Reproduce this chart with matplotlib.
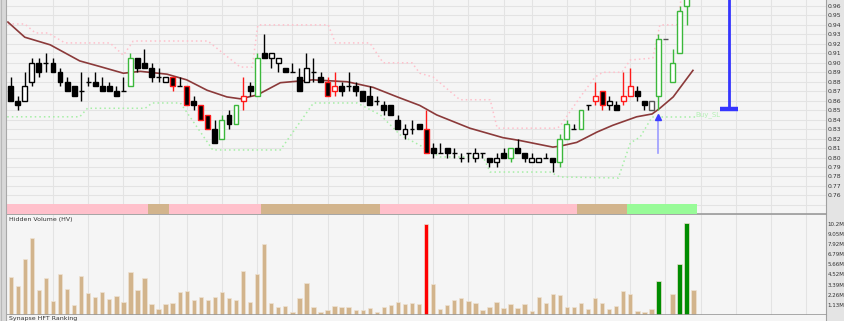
import matplotlib
matplotlib.use("Agg")
import matplotlib.pyplot as plt
from matplotlib.patches import Rectangle
from matplotlib.lines import Line2D

# ---- candles (one per session) ----
opens = [0.875, 0.86, 0.86, 0.88, 0.90, 0.90, 0.90, 0.89, 0.88, 0.875,
         0.87, 0.88, 0.88, 0.875, 0.875, 0.87, 0.87, 0.875, 0.905, 0.90,
         0.895, 0.885, 0.88, 0.885, 0.875, 0.875, 0.86, 0.855, 0.845, 0.83,
         0.82, 0.845, 0.835, 0.86, 0.875, 0.865, 0.91, 0.905, 0.90, 0.895,
         0.89, 0.885, 0.88, 0.89, 0.885, 0.88, 0.87, 0.875, 0.875, 0.875,
         0.87, 0.865, 0.86, 0.855, 0.855, 0.84, 0.825, 0.83, 0.835, 0.83,
         0.81, 0.805, 0.81, 0.805, 0.80, 0.805, 0.80, 0.805, 0.80, 0.795,
         0.805, 0.80, 0.81, 0.805, 0.795, 0.795, 0.80, 0.80, 0.795, 0.82,
         0.83, 0.83, 0.855, 0.86, 0.87, 0.855, 0.855, 0.86, 0.865, 0.87,
         0.86, 0.85, 0.865, 0.925, 0.88, 0.91, 0.96, 0.99]
highs = [0.885, 0.865, 0.89, 0.905, 0.905, 0.91, 0.905, 0.895, 0.885, 0.875,
         0.89, 0.885, 0.89, 0.885, 0.88, 0.875, 0.885, 0.91, 0.905, 0.915,
         0.90, 0.895, 0.885, 0.885, 0.885, 0.875, 0.865, 0.855, 0.845, 0.84,
         0.845, 0.85, 0.855, 0.885, 0.88, 0.91, 0.93, 0.91, 0.905, 0.895,
         0.90, 0.895, 0.91, 0.905, 0.89, 0.885, 0.89, 0.88, 0.89, 0.88,
         0.87, 0.875, 0.865, 0.86, 0.855, 0.845, 0.835, 0.84, 0.835, 0.85,
         0.815, 0.815, 0.81, 0.81, 0.805, 0.805, 0.81, 0.805, 0.80, 0.805,
         0.81, 0.81, 0.82, 0.805, 0.805, 0.80, 0.805, 0.80, 0.825, 0.84,
         0.835, 0.85, 0.855, 0.88, 0.87, 0.865, 0.86, 0.89, 0.895, 0.875,
         0.86, 0.86, 0.93, 0.925, 0.915, 0.96, 0.99, 1.02]
lows = [0.86, 0.85, 0.86, 0.875, 0.885, 0.89, 0.89, 0.875, 0.87, 0.865,
        0.86, 0.875, 0.875, 0.87, 0.87, 0.865, 0.87, 0.875, 0.89, 0.895,
        0.88, 0.88, 0.88, 0.87, 0.875, 0.855, 0.85, 0.84, 0.83, 0.815,
        0.82, 0.83, 0.835, 0.85, 0.865, 0.865, 0.905, 0.895, 0.89, 0.89,
        0.89, 0.87, 0.88, 0.88, 0.88, 0.865, 0.865, 0.865, 0.87, 0.865,
        0.86, 0.855, 0.855, 0.845, 0.845, 0.83, 0.82, 0.825, 0.83, 0.805,
        0.80, 0.805, 0.80, 0.80, 0.795, 0.795, 0.795, 0.80, 0.79, 0.79,
        0.80, 0.795, 0.805, 0.795, 0.795, 0.795, 0.80, 0.785, 0.79, 0.82,
        0.83, 0.83, 0.85, 0.855, 0.85, 0.85, 0.85, 0.855, 0.865, 0.86,
        0.85, 0.85, 0.85, 0.925, 0.88, 0.91, 0.94, 0.98]
closes = [0.86, 0.855, 0.875, 0.90, 0.89, 0.90, 0.89, 0.88, 0.87, 0.865,
          0.87, 0.88, 0.875, 0.87, 0.87, 0.865, 0.87, 0.905, 0.895, 0.895,
          0.885, 0.885, 0.885, 0.875, 0.875, 0.855, 0.855, 0.84, 0.83, 0.815,
          0.84, 0.835, 0.855, 0.865, 0.87, 0.905, 0.905, 0.91, 0.905, 0.89,
          0.89, 0.87, 0.895, 0.89, 0.88, 0.865, 0.875, 0.87, 0.875, 0.87,
          0.86, 0.855, 0.86, 0.85, 0.845, 0.83, 0.83, 0.83, 0.83, 0.805,
          0.805, 0.805, 0.805, 0.805, 0.80, 0.805, 0.805, 0.805, 0.795, 0.80,
          0.80, 0.81, 0.805, 0.80, 0.80, 0.80, 0.80, 0.795, 0.82, 0.835,
          0.83, 0.85, 0.855, 0.865, 0.855, 0.86, 0.85, 0.865, 0.875, 0.865,
          0.855, 0.86, 0.925, 0.925, 0.90, 0.955, 0.985, 1.01]
# k = normal, r = red signal, g = green signal, s = grey
candle_kind = ("kkkkkkkkkkkkkkkkk" "g" "kkkkk" "r" "k" "r" "k" "rr" "k" "g" "k" "g"
               "r" "k" "g" "kkkkkkkkk" "rr" "kkkkkkkkkkkk" "r" "kkkkkkkkkkk" "g"
               "kkkkkk" "gg" "k" "g" "k" "rr" "kk" "rr" "kk" "s" "g" "s" "gggg")

volume = [4.23, 3.18, 6.29, 8.61, 2.81, 4.16, 1.54, 4.53, 2.92, 1.16,
          4.31, 2.47, 1.98, 2.58, 1.80, 2.17, 1.46, 4.79, 2.81, 4.16,
          1.24, 0.67, 1.24, 1.35, 2.55, 2.73, 1.72, 2.06, 1.69, 2.06,
          2.51, 1.87, 1.65, 4.94, 1.50, 4.53, 7.90, 1.35, 0.90, 1.01,
          0.30, 1.95, 3.56, 0.94, 0.37, 0.60, 1.01, 0.94, 0.94, 0.60,
          0.60, 0.82, 0.37, 0.86, 1.12, 1.50, 1.27, 1.39, 1.27, 10.15,
          3.45, 0.67, 1.12, 1.72, 1.95, 1.61, 1.39, 0.60, 0.90, 1.50,
          0.79, 1.24, 0.79, 1.27, 0.49, 1.98, 1.35, 2.36, 2.25, 0.90,
          0.90, 1.35, 0.71, 1.87, 1.39, 0.64, 1.05, 2.70, 2.36, 0.45,
          0.30, 0.64, 3.75, 0.0, 2.32, 5.65, 10.22, 2.81]
red_vol = [59]
green_vol = [92, 95, 96]

# p = pink, t = tan, g = green ranking strip
strip_kind = "p" * 20 + "t" * 3 + "p" * 13 + "t" * 17 + "p" * 28 + "t" * 7 + "g" * 10

ma_idx = [-0.4, 2.0, 5.6, 9.8, 12.7, 16.0, 18.4, 22.2, 25.0, 27.9, 30.7, 32.6,
          35.0, 38.3, 42.9, 47.8, 51.5, 54.9, 58.1, 60.5, 65.2, 69.9, 72.3,
          77.0, 78.0, 80.4, 83.3, 85.5, 88.9, 91.1, 92.2, 94.1, 96.9]
ma_val = [0.943, 0.927, 0.919, 0.902, 0.896, 0.889, 0.891, 0.888, 0.882, 0.871,
          0.864, 0.862, 0.866, 0.879, 0.882, 0.880, 0.874, 0.864, 0.855, 0.845,
          0.831, 0.821, 0.818, 0.811, 0.812, 0.816, 0.827, 0.834, 0.843, 0.846,
          0.852, 0.864, 0.892]

upper_idx = [-0.4, 2.0, 3.5, 5.3, 7.7, 14.1, 16.0, 17.4, 28.0, 32.6, 34.3, 35.1,
             45.1, 46.1, 51.0, 52.9, 57.0, 58.1, 60.0, 63.8, 68.1, 69.1, 77.6,
             78.0, 80.9, 83.0, 84.1, 86.8, 88.0, 91.2, 92.2, 94.6, 95.4]
upper_val = [0.941, 0.941, 0.9315, 0.9315, 0.921, 0.921, 0.908, 0.923, 0.923,
             0.8955, 0.8955, 0.94, 0.94, 0.921, 0.921, 0.90, 0.90, 0.889, 0.885,
             0.861, 0.861, 0.831, 0.831, 0.833, 0.864, 0.885, 0.89, 0.89, 0.903,
             0.905, 0.94, 0.94, 0.975]

lower_idx = [-0.5, 9.8, 10.9, 19.1, 20.1, 24.1, 28.7, 38.3, 43.0, 49.2, 52.5,
             55.3, 58.1, 60.0, 61.0, 67.1, 68.1, 76.6, 78.0, 86.3, 88.0, 89.4,
             91.1, 97.2]
lower_val = [0.843, 0.843, 0.852, 0.852, 0.8576, 0.8576, 0.808, 0.808, 0.8576,
             0.8576, 0.845, 0.824, 0.813, 0.805, 0.8006, 0.8006, 0.7847, 0.7847,
             0.7795, 0.7784, 0.8153, 0.8217, 0.8428, 0.8428]

price_ticks = [0.76, 0.77, 0.78, 0.79, 0.80, 0.81, 0.82, 0.83, 0.84, 0.85, 0.86,
               0.87, 0.88, 0.89, 0.90, 0.91, 0.92, 0.93, 0.94, 0.95, 0.96]
vol_ticks = [1.13, 2.26, 3.39, 4.52, 5.66, 6.79, 7.92, 9.05, 10.2]
vol_labels = ["1.13M", "2.26M", "3.39M", "4.52M", "5.66M", "6.79M", "7.92M",
              "9.05M", "10.2M"]
week_lines = [6, 11, 16, 21, 25, 30, 35, 40, 45, 50, 55, 60, 65, 70, 74, 79, 83,
              88, 93, 98, 103, 108, 113]

signal_idx = 92          # blue arrow
buy_sl = 0.8428
target_idx = 102         # blue target bar
target_low = 0.8512

edge_cols = {"k": "#000000", "r": "#ff1a1a", "g": "#3cb83c", "s": "#555555"}
strip_cols = {"p": "#ffc0cb", "t": "#d2b48c", "g": "#98fb98"}
panel_bg = "#f5f5f5"
grid_col = "#e3e3e3"

fig = plt.figure(figsize=(8.45, 3.21), dpi=100, facecolor="#e4e4e4")
W, H = 845.0, 321.0
ax = fig.add_axes([7 / W, 107 / H, 819 / W, 214 / H], facecolor=panel_bg)
axv = fig.add_axes([7 / W, 6 / H, 819 / W, 100 / H], facecolor=panel_bg)
axb = fig.add_axes([7 / W, 0, 819 / W, 6 / H], facecolor=panel_bg)

xlim = (-0.53, 115.8)
for a in (ax, axv, axb):
    a.set_xlim(*xlim)
    a.set_xticks([])
    for s in ("top", "left"):
        a.spines[s].set_visible(False)
    a.spines["right"].set_color("#a0a0a0")
    a.spines["bottom"].set_color("#9a9a9a")
    a.spines["bottom"].set_linewidth(1.2)
    a.tick_params(axis="y", left=False, labelleft=False, right=True,
                  labelright=True, length=0, labelsize=4.4, colors="#333333",
                  pad=1.5)
axb.set_yticks([])
axb.spines["bottom"].set_visible(False)
axv.tick_params(axis="y", labelsize=4.0, pad=1.2)

# ---- price panel ----
ax.set_ylim(0.7404, 0.9663)
ax.set_yticks(price_ticks)
ax.set_yticklabels(["%.2f" % t for t in price_ticks])
for t in price_ticks + [0.75]:
    ax.axhline(t, color=grid_col, lw=0.8, zorder=0)
for w in week_lines:
    ax.axvline(w, color=grid_col, lw=0.8, zorder=0)
    axv.axvline(w, color=grid_col, lw=0.8, zorder=0)

ax.plot(upper_idx, upper_val, color="#ffc0cb", lw=1.1, ls=(0, (1, 2)), zorder=1)
ax.plot(lower_idx, lower_val, color="#a6eea6", lw=1.1, ls=(0, (1, 2)), zorder=1)
ax.plot(ma_idx, ma_val, color="#8b3a3a", lw=1.2, zorder=2)

body_w = 0.7
for i in range(len(opens)):
    o, h, l, c = opens[i], highs[i], lows[i], closes[i]
    ec = edge_cols[candle_kind[i]]
    ax.vlines(i, l, h, color=ec, lw=1.0, zorder=3)
    fill = "#000000" if c < o else "#ffffff"
    if candle_kind[i] == "g":
        fill = "#ffffff"
    ax.add_patch(Rectangle((i - body_w / 2, min(o, c)), body_w, abs(c - o),
                           facecolor=fill, edgecolor=ec, lw=1.0, zorder=4))

# ranking strip along the bottom of the price panel
for i, k in enumerate(strip_kind):
    ax.add_patch(Rectangle((i - 0.5, 0.7404), 1.0, 0.0105, facecolor=strip_cols[k],
                           edgecolor="none", zorder=5))

# signal arrow, stop label and target bar
ax.plot([signal_idx, signal_idx], [0.8048, 0.842], color="#9c9cff", lw=1.2, zorder=6)
ax.plot([signal_idx], [0.8425], marker="^", color="#3a3aff", ms=4.5, zorder=6)
ax.text(97.2, buy_sl + 0.002, "Buy_SL", color="#b4f0b4", fontsize=5, va="center",
        ha="left", zorder=6)
ax.plot([target_idx, target_idx], [target_low, 1.0], color="#3535ff", lw=2.0,
        zorder=6, solid_capstyle="butt")
ax.plot([target_idx - 1.3, target_idx + 1.3], [target_low, target_low],
        color="#3535ff", lw=3.2, zorder=6, solid_capstyle="butt")

# ---- volume panel ----
axv.set_ylim(0, 11.15)
axv.set_yticks(vol_ticks)
axv.set_yticklabels(vol_labels)
vcols = []
for i in range(len(volume)):
    if i in red_vol:
        vcols.append("#ff0000")
    elif i in green_vol:
        vcols.append("#008c00")
    else:
        vcols.append("#d2b48c")
axv.bar(range(len(volume)), volume, width=0.62, color=vcols, edgecolor="#eee2d2",
        linewidth=0.5, zorder=2)
axv.text(0.003, 0.975, "Hidden Volume (HV)", transform=axv.transAxes, fontsize=4.5,
         color="#333333", va="top", ha="left")
fig.text(9 / W, 1 - 316 / H, "Synapse HFT Ranking", fontsize=4.5, color="#333333",
         va="top", ha="left")

# window border on the left
fig.patches.append(Rectangle((0, 0), 7 / W, 1, transform=fig.transFigure,
                             facecolor="#d8d8d8", edgecolor="none"))
for xp, col in ((1.5, "#b8b8b8"), (6.5, "#a8a8a8")):
    fig.lines.append(Line2D([xp / W, xp / W], [0, 1], transform=fig.transFigure,
                            color=col, lw=0.8))

fig.savefig("out.png", dpi=100, facecolor=fig.get_facecolor())
